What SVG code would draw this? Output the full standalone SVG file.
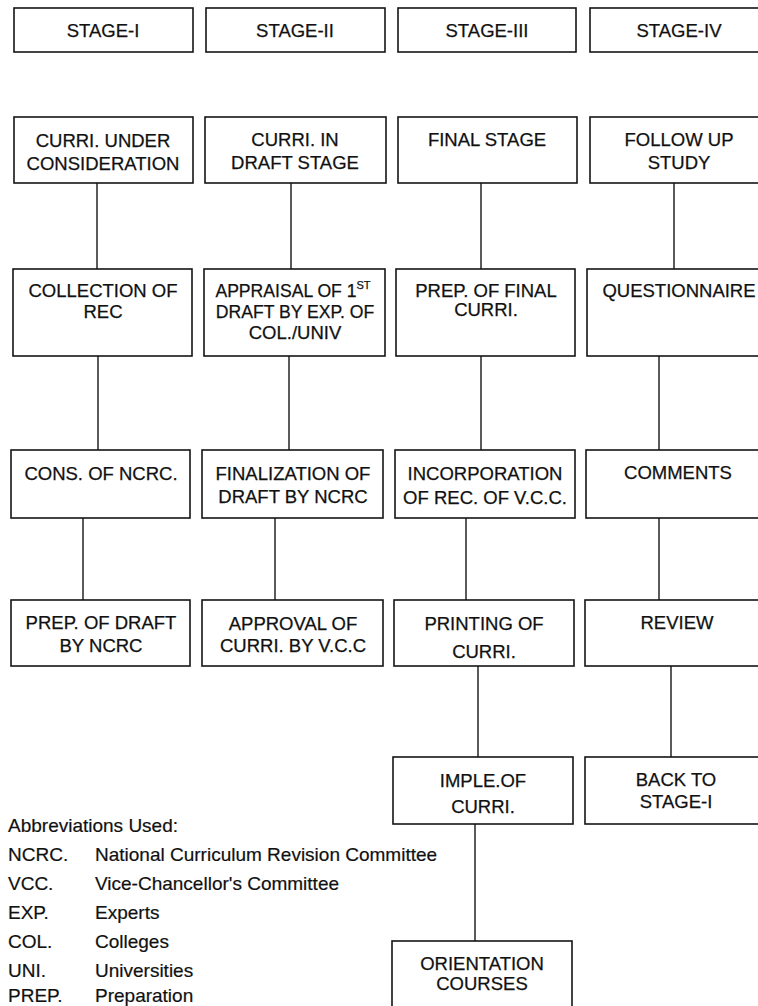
<svg xmlns="http://www.w3.org/2000/svg" width="758" height="1006" viewBox="0 0 758 1006">
<style>
.box{fill:#fff;stroke:#151515;stroke-width:1.6}
.t{font-family:"Liberation Sans",Arial,sans-serif;font-size:18.5px;fill:#111;stroke:#111;stroke-width:0.25;text-anchor:middle}
.n{font-size:17.6px}
.a{font-family:"Liberation Sans",Arial,sans-serif;font-size:19px;fill:#111;stroke:#111;stroke-width:0.2}
.c{stroke:#151515;stroke-width:1.4;fill:none}
</style>
<rect width="758" height="1006" fill="#fff"/>
<g id="connectors">
<line class="c" x1="97" y1="183" x2="97" y2="269"/>
<line class="c" x1="98" y1="356" x2="98" y2="450"/>
<line class="c" x1="83" y1="518" x2="83" y2="600"/>
<line class="c" x1="291" y1="183" x2="291" y2="269"/>
<line class="c" x1="289" y1="356" x2="289" y2="450"/>
<line class="c" x1="275" y1="518" x2="275" y2="600"/>
<line class="c" x1="481" y1="183" x2="481" y2="269"/>
<line class="c" x1="481" y1="356" x2="481" y2="450"/>
<line class="c" x1="466" y1="518" x2="466" y2="600"/>
<line class="c" x1="478" y1="666" x2="478" y2="757"/>
<line class="c" x1="475" y1="824" x2="475" y2="941"/>
<line class="c" x1="674" y1="183" x2="674" y2="269"/>
<line class="c" x1="659" y1="356" x2="659" y2="450"/>
<line class="c" x1="659" y1="518" x2="659" y2="600"/>
<line class="c" x1="671" y1="666" x2="671" y2="757"/>
</g>
<g id="stage1"><rect class="box" x="14" y="8" width="179" height="44"/><text class="t" x="103" y="37">STAGE-I</text></g>
<g id="stage2"><rect class="box" x="206" y="8" width="179" height="44"/><text class="t" x="295" y="37">STAGE-II</text></g>
<g id="stage3"><rect class="box" x="398" y="8" width="178" height="44"/><text class="t" x="487" y="37">STAGE-III</text></g>
<g id="stage4"><rect class="box" x="590" y="8" width="185" height="44"/><text class="t" x="679" y="37">STAGE-IV</text></g>

<g id="curri-under"><rect class="box" x="14" y="117" width="179" height="66"/><text class="t" x="103" y="147">CURRI. UNDER</text><text class="t" x="103" y="170">CONSIDERATION</text></g>
<g id="curri-draft"><rect class="box" x="205" y="117" width="181" height="66"/><text class="t" x="295" y="146">CURRI. IN</text><text class="t" x="295" y="169">DRAFT STAGE</text></g>
<g id="final-stage"><rect class="box" x="398" y="117" width="179" height="66"/><text class="t" x="487" y="146">FINAL STAGE</text></g>
<g id="follow-up"><rect class="box" x="590" y="117" width="185" height="66"/><text class="t" x="679" y="146">FOLLOW UP</text><text class="t" x="679" y="169">STUDY</text></g>

<g id="collection"><rect class="box" x="13" y="269" width="179" height="87"/><text class="t" x="103" y="297">COLLECTION OF</text><text class="t" x="103" y="318">REC</text></g>
<g id="appraisal"><rect class="box" x="204" y="269" width="181" height="87"/><text class="t n" x="293" y="297">APPRAISAL OF 1<tspan font-size="11" dy="-8">ST</tspan></text><text class="t n" x="295" y="318">DRAFT BY EXP. OF</text><text class="t" x="295" y="339">COL./UNIV</text></g>
<g id="prep-final"><rect class="box" x="396" y="269" width="179" height="87"/><text class="t" x="486" y="297">PREP. OF FINAL</text><text class="t" x="486" y="316">CURRI.</text></g>
<g id="questionnaire"><rect class="box" x="587" y="269" width="188" height="87"/><text class="t" x="679" y="297">QUESTIONNAIRE</text></g>

<g id="cons-ncrc"><rect class="box" x="11" y="450" width="179" height="68"/><text class="t" x="101" y="480">CONS. OF NCRC.</text></g>
<g id="finalization"><rect class="box" x="202" y="450" width="181" height="68"/><text class="t" x="293" y="480">FINALIZATION OF</text><text class="t" x="293" y="503">DRAFT BY NCRC</text></g>
<g id="incorporation"><rect class="box" x="395" y="450" width="180" height="68"/><text class="t" x="485" y="480">INCORPORATION</text><text class="t" x="485" y="504">OF REC. OF V.C.C.</text></g>
<g id="comments"><rect class="box" x="586" y="450" width="189" height="68"/><text class="t" x="678" y="479">COMMENTS</text></g>

<g id="prep-draft"><rect class="box" x="11" y="600" width="179" height="66"/><text class="t" x="101" y="629">PREP. OF DRAFT</text><text class="t" x="101" y="652">BY NCRC</text></g>
<g id="approval"><rect class="box" x="202" y="600" width="181" height="66"/><text class="t" x="293" y="630">APPROVAL OF</text><text class="t" x="293" y="652">CURRI. BY V.C.C</text></g>
<g id="printing"><rect class="box" x="394" y="600" width="180" height="66"/><text class="t" x="484" y="630">PRINTING OF</text><text class="t" x="484" y="658">CURRI.</text></g>
<g id="review"><rect class="box" x="585" y="600" width="190" height="66"/><text class="t" x="677" y="629">REVIEW</text></g>

<g id="imple"><rect class="box" x="393" y="757" width="180" height="67"/><text class="t" x="483" y="787">IMPLE.OF</text><text class="t" x="483" y="813">CURRI.</text></g>
<g id="back-to"><rect class="box" x="585" y="757" width="190" height="67"/><text class="t" x="676" y="786">BACK TO</text><text class="t" x="676" y="808">STAGE-I</text></g>

<g id="orientation"><rect class="box" x="392" y="941" width="180" height="80"/><text class="t" x="482" y="970">ORIENTATION</text><text class="t" x="482" y="990">COURSES</text></g>

<g id="abbreviations">
<text class="a" x="8" y="832">Abbreviations Used:</text>
<text class="a" x="8" y="861">NCRC.</text><text class="a" x="95" y="861">National Curriculum Revision Committee</text>
<text class="a" x="8" y="890">VCC.</text><text class="a" x="95" y="890">Vice-Chancellor's Committee</text>
<text class="a" x="8" y="919">EXP.</text><text class="a" x="95" y="919">Experts</text>
<text class="a" x="8" y="948">COL.</text><text class="a" x="95" y="948">Colleges</text>
<text class="a" x="8" y="977">UNI.</text><text class="a" x="95" y="977">Universities</text>
<text class="a" x="8" y="1002">PREP.</text><text class="a" x="95" y="1002">Preparation</text>
</g>
</svg>
